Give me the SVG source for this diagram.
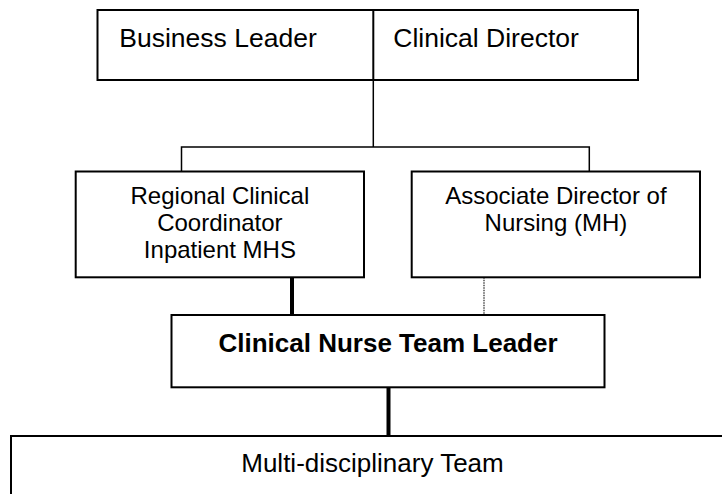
<svg xmlns="http://www.w3.org/2000/svg" width="722" height="494" viewBox="0 0 722 494">
  <style>
    .box { fill: #ffffff; stroke: #000000; stroke-width: 2; }
    .line { fill: none; stroke: #000000; stroke-width: 1.5; }
    .thick { fill: none; stroke: #000000; stroke-width: 4; }
    .dotted { fill: none; stroke: #222222; stroke-width: 1.2; stroke-dasharray: 1.5 1; }
    text { font-family: "Liberation Sans", Arial, sans-serif; fill: #000000; }
    .top { font-size: 26.5px; }
    .mid { font-size: 24px; text-anchor: middle; }
    .lead { font-size: 26px; font-weight: bold; text-anchor: middle; }
    .team { font-size: 26px; text-anchor: middle; }
  </style>

  <rect width="722" height="494" fill="#ffffff"/>

  <!-- connectors -->
  <g id="connectors">
    <line class="line" x1="373.3" y1="80" x2="373.3" y2="147"/>
    <polyline class="line" points="181.5,171.5 181.5,147 589.3,147 589.3,171.5"/>
    <line class="thick" x1="292" y1="277.3" x2="292" y2="315"/>
    <line class="dotted" x1="484" y1="277.3" x2="484" y2="315"/>
    <line class="thick" x1="388.5" y1="387.3" x2="388.5" y2="436"/>
  </g>

  <!-- top shared box: business leader / clinical director -->
  <g id="node-leadership">
    <rect class="box" x="97.5" y="10" width="540.5" height="70"/>
    <line class="line" x1="373.3" y1="10" x2="373.3" y2="80" style="stroke-width:2"/>
    <text class="top" x="119.3" y="46.5">Business Leader</text>
    <text class="top" x="393.3" y="46.5">Clinical Director</text>
  </g>

  <g id="node-regional">
    <rect class="box" x="75.7" y="171.5" width="288.3" height="105.8"/>
    <text class="mid" x="219.9" y="204">Regional Clinical</text>
    <text class="mid" x="219.9" y="231">Coordinator</text>
    <text class="mid" x="219.9" y="258">Inpatient MHS</text>
  </g>

  <g id="node-associate">
    <rect class="box" x="411.7" y="171.5" width="288.3" height="105.8"/>
    <text class="mid" x="555.9" y="204">Associate Director of</text>
    <text class="mid" x="555.9" y="231">Nursing (MH)</text>
  </g>

  <g id="node-cntl">
    <rect class="box" x="171.5" y="315" width="433" height="72.3"/>
    <text class="lead" x="388" y="351.7">Clinical Nurse Team Leader</text>
  </g>

  <g id="node-mdt">
    <rect class="box" x="11" y="436" width="723" height="80"/>
    <text class="team" x="372.5" y="472">Multi-disciplinary Team</text>
  </g>
</svg>
